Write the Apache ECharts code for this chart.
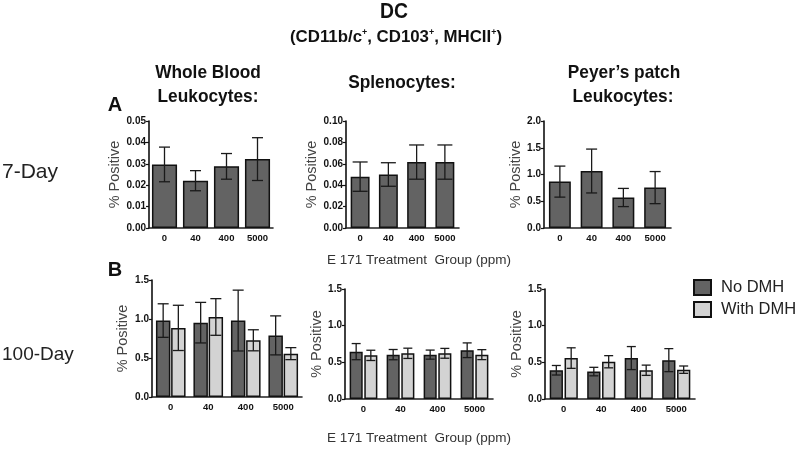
<!DOCTYPE html>
<html><head><meta charset="utf-8">
<script src="https://cdn.jsdelivr.net/npm/echarts@6/dist/echarts.min.js"></script>
<style>html,body{margin:0;padding:0;background:#fff}#c{width:800px;height:454px}</style>
</head><body><div id="c"></div>
<script>
// ---- data ----
const categories = ['0', '40', '400', '5000'];
const seriesNames = ['No DMH', 'With DMH'];
// 7-Day (panel A)
const wb7Mean = [0.0297, 0.0221, 0.0288, 0.0322];
const wb7Err  = [0.0081, 0.0047, 0.0060, 0.0100];
const sp7Mean = [0.048, 0.050, 0.0616, 0.0616];
const sp7Err  = [0.0137, 0.011, 0.016, 0.016];
const pp7Mean = [0.867, 1.065, 0.57, 0.755];
const pp7Err  = [0.29, 0.41, 0.17, 0.30];
// 100-Day (panel B)
const wb100NoMean   = [0.98, 0.953, 0.98, 0.79];
const wb100NoErr    = [0.215, 0.26, 0.39, 0.25];
const wb100WithMean = [0.886, 1.026, 0.727, 0.556];
const wb100WithErr  = [0.29, 0.235, 0.135, 0.077];
const sp100NoMean   = [0.646, 0.605, 0.605, 0.665];
const sp100NoErr    = [0.11, 0.07, 0.062, 0.10];
const sp100WithMean = [0.595, 0.623, 0.623, 0.605];
const sp100WithErr  = [0.07, 0.07, 0.067, 0.068];
const pp100NoMean   = [0.392, 0.374, 0.558, 0.53];
const pp100NoErr    = [0.065, 0.058, 0.157, 0.157];
const pp100WithMean = [0.558, 0.508, 0.392, 0.40];
const pp100WithErr  = [0.14, 0.083, 0.07, 0.05];
// axis ticks
const yMaxA = [0.05, 0.10, 2.0];
const yIntA = [0.01, 0.02, 0.5];
const yMaxB = 1.5, yIntB = 0.5;

// ---- styling / layout ----
const DARK = '#636363', LIGHT = '#d3d3d3', EDGE = '#111';
const SANS = "'Liberation Sans',Arial,sans-serif";

const panels = [
  {grid:{left:149,top:121,width:124,height:107}, max:yMaxA[0], interval:yIntA[0], dec:2, nameGap:24, cat:0.19, gap:0, cap:5.5,
   s:[{mean:wb7Mean, err:wb7Err, color:DARK}]},
  {grid:{left:346,top:121,width:113,height:107}, max:yMaxA[1], interval:yIntA[1], dec:2, nameGap:27, cat:0.33, gap:0, cap:7.5,
   s:[{mean:sp7Mean, err:sp7Err, color:DARK}]},
  {grid:{left:544,top:121,width:127,height:107}, max:yMaxA[2], interval:yIntA[2], dec:1, nameGap:20, cat:0.31, gap:0, cap:5.5,
   s:[{mean:pp7Mean, err:pp7Err, color:DARK}]},
  {grid:{left:152,top:280,width:150,height:117}, max:yMaxB, interval:yIntB, dec:1, nameGap:22, cat:0.21, gap:0.05, cap:5.5,
   s:[{mean:wb100NoMean, err:wb100NoErr, color:DARK, name:seriesNames[0]}, {mean:wb100WithMean, err:wb100WithErr, color:LIGHT, name:seriesNames[1]}]},
  {grid:{left:345,top:289,width:148,height:110}, max:yMaxB, interval:yIntB, dec:1, nameGap:16, cat:0.25, gap:0.12, cap:4.5,
   s:[{mean:sp100NoMean, err:sp100NoErr, color:DARK, name:seriesNames[0]}, {mean:sp100WithMean, err:sp100WithErr, color:LIGHT, name:seriesNames[1]}]},
  {grid:{left:545,top:289,width:150,height:110}, max:yMaxB, interval:yIntB, dec:1, nameGap:16, cat:0.25, gap:0.12, cap:4.5,
   s:[{mean:pp100NoMean, err:pp100NoErr, color:DARK, name:seriesNames[0]}, {mean:pp100WithMean, err:pp100WithErr, color:LIGHT, name:seriesNames[1]}]}
];

const grid = [], xAxis = [], yAxis = [], series = [];
panels.forEach((p, i) => {
  grid.push(p.grid);
  xAxis.push({type:'category', gridIndex:i, data:categories,
    axisLine:{lineStyle:{color:'#222', width:1.6}}, axisTick:{show:false},
    axisLabel:{interval:0, fontSize:9.5, fontWeight:'bold', color:'#111', fontFamily:SANS, margin:5}});
  yAxis.push({type:'value', gridIndex:i, min:0, max:p.max, interval:p.interval,
    axisLine:{show:true, lineStyle:{color:'#111', width:1.6}},
    axisTick:{show:true, length:3, lineStyle:{color:'#111', width:1.2}},
    splitLine:{show:false},
    axisLabel:{fontSize:10, fontWeight:'bold', color:'#111', fontFamily:SANS, margin:3,
      formatter: v => v.toFixed(p.dec)},
    name:'% Positive', nameLocation:'middle', nameGap:p.nameGap,
    nameTextStyle:{fontSize:14.5, color:'#444', fontFamily:SANS}});
  const n = p.s.length;
  p.s.forEach((s, k) => {
    series.push({type:'bar', name:s.name, xAxisIndex:i, yAxisIndex:i, data:s.mean,
      barCategoryGap:(p.cat*100)+'%', barGap:(p.gap*100)+'%',
      itemStyle:{color:s.color, borderColor:EDGE, borderWidth:1.5},
      emphasis:{disabled:true}, z:2});
  });
  p.s.forEach((s, k) => {
    series.push({type:'custom', xAxisIndex:i, yAxisIndex:i, z:5, silent:true,
      data:s.mean.map((m, j) => [j, m - s.err[j], m + s.err[j]]),
      renderItem:(params, api) => {
        const j = api.value(0);
        const lo = api.coord([j, api.value(1)]);
        const hi = api.coord([j, api.value(2)]);
        const band = api.size([1, 0])[0];
        const gw = band * (1 - p.cat);
        const bw = gw / (n + (n - 1) * p.gap);
        const cx = lo[0] - gw / 2 + bw / 2 + k * bw * (1 + p.gap);
        const st = {stroke:'#1a1a1a', lineWidth:1.3};
        return {type:'group', children:[
          {type:'line', shape:{x1:cx, y1:lo[1], x2:cx, y2:hi[1]}, style:st},
          {type:'line', shape:{x1:cx - p.cap, y1:hi[1], x2:cx + p.cap, y2:hi[1]}, style:st},
          {type:'line', shape:{x1:cx - p.cap, y1:lo[1], x2:cx + p.cap, y2:lo[1]}, style:st}
        ]};
      }});
  });
});

function txt(text, x, y, size, weight, align, extra, sx) {
  return {type:'text', x:x, y:y, scaleX:sx || 1, silent:true,
    style:Object.assign({text:text, fontSize:size, fontWeight:weight, fontFamily:SANS, fill:'#111',
      textAlign:align || 'center', textVerticalAlign:'middle'}, extra || {})};
}
const xTitle = 'E 171 Treatment  Group (ppm)';
const graphic = [
  txt('DC', 394, 12, 22, 'bold', 'center', null, 0.88),
  txt('{n|(CD11b/c}{s|+}{n|, CD103}{s|+}{n|, MHCII}{s|+}{n|)}', 396, 37, 17, 'bold', 'center', {
    rich:{n:{fontSize:17, fontWeight:'bold', fontFamily:SANS, lineHeight:18, verticalAlign:'bottom'},
          s:{fontSize:9, fontWeight:'bold', fontFamily:SANS, lineHeight:18, verticalAlign:'top'}}}, 0.99),
  txt('Whole Blood', 208, 73, 19, 'bold', 'center', null, 0.91),
  txt('Leukocytes:', 208, 97, 19, 'bold', 'center', null, 0.91),
  txt('Splenocytes:', 402, 83, 19, 'bold', 'center', null, 0.91),
  txt('Peyer\u2019s patch', 624, 73, 19, 'bold', 'center', null, 0.91),
  txt('Leukocytes:', 623, 97, 19, 'bold', 'center', null, 0.91),
  txt('A', 115, 105, 20, 'bold'),
  txt('B', 115, 270, 20, 'bold'),
  txt('7-Day', 2, 172, 21, 'normal', 'left', {fill:'#222'}),
  txt('100-Day', 2, 355, 19, 'normal', 'left', {fill:'#222'}),
  txt(xTitle, 419, 260, 13.5, 'normal', 'center', {fill:'#333'}),
  txt(xTitle, 419, 438, 13.5, 'normal', 'center', {fill:'#333'})
];

const chart = echarts.init(document.getElementById('c'), null, {renderer:'canvas'});
chart.setOption({
  animation:false,
  backgroundColor:'#fff',
  legend:{data:seriesNames, orient:'vertical', left:693, top:279, padding:0, itemWidth:17, itemHeight:15, itemGap:5,
    icon:'rect', textStyle:{fontSize:16.5, color:'#222', fontFamily:SANS, padding:[0,0,0,5]},
    selectedMode:false},
  grid, xAxis, yAxis, series, graphic
});
</script></body></html>
